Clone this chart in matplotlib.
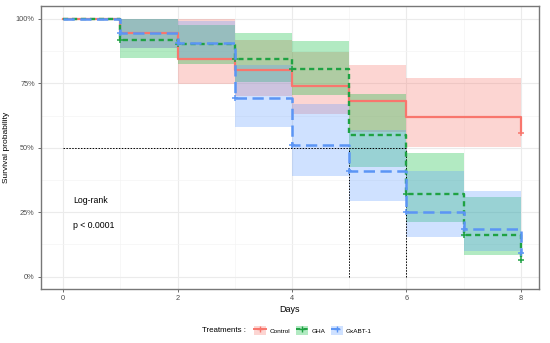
import matplotlib
matplotlib.use("Agg")
import matplotlib.pyplot as plt
import matplotlib.ticker as ticker
from matplotlib.patches import Patch
from matplotlib.lines import Line2D

plt.rcParams["font.family"] = ["Liberation Sans", "DejaVu Sans"]

# step times (days) and Kaplan-Meier estimates
days = [0, 1, 2, 3, 4, 5, 6, 7, 8]

control_surv = [1.0, 0.944, 0.844, 0.802, 0.741, 0.683, 0.621, 0.621, 0.559]
control_low = [1.0, 0.886, 0.748, 0.700, 0.631, 0.560, 0.502, 0.502, 0.502]
control_up = [1.0, 1.0, 1.0, 0.920, 0.873, 0.821, 0.772, 0.772, 0.772]

gha_surv = [1.0, 0.917, 0.902, 0.844, 0.805, 0.550, 0.321, 0.162, 0.065]
gha_low = [1.0, 0.847, 0.826, 0.757, 0.705, 0.427, 0.213, 0.084, 0.084]
gha_up = [1.0, 1.0, 0.978, 0.944, 0.915, 0.708, 0.481, 0.310, 0.310]

gxabt_surv = [1.0, 0.946, 0.907, 0.695, 0.511, 0.410, 0.252, 0.184, 0.092]
gxabt_low = [1.0, 0.886, 0.844, 0.580, 0.390, 0.295, 0.155, 0.100, 0.100]
gxabt_up = [1.0, 1.0, 0.990, 0.820, 0.670, 0.569, 0.411, 0.334, 0.334]

# censor marks
control_cens = [8]
gha_cens = [1, 2, 3, 4, 6, 7, 8]
gxabt_cens = [1, 2, 3, 4, 5, 6, 7, 8]

groups = ["Control", "GHA", "GxABT-1"]
colors = ["#F8766D", "#1FA243", "#5B95F5"]
fills = ["#F8766D", "#00BA38", "#619CFF"]
dashes = [None, (2.2, 1.6), (4.5, 2.2)]
widths = [1.6, 1.7, 1.8]

median_days = [5, 6]

fig = plt.figure(figsize=(5.5, 3.43), dpi=100)
ax = fig.add_axes([0.0745, 0.1574, 0.9055, 0.8251])

series = [
    (control_surv, control_low, control_up, control_cens),
    (gha_surv, gha_low, gha_up, gha_cens),
    (gxabt_surv, gxabt_low, gxabt_up, gxabt_cens),
]

for (surv, low, up, cens), fc in zip(series, fills):
    ax.fill_between(days, low, up, step="post", color=fc, alpha=0.3,
                    linewidth=0, zorder=2)

for i, ((surv, low, up, cens), col) in enumerate(zip(series, colors)):
    line, = ax.step(days, surv, where="post", color=col, linewidth=widths[i],
                    zorder=4 + i)
    if dashes[i] is not None:
        line.set_dashes(dashes[i])
    cy = [surv[days.index(t)] for t in cens]
    ax.plot(cens, cy, linestyle="none", marker="+", markersize=5,
            markeredgewidth=1.1, color=col, zorder=4 + i)

# median survival reference lines
ax.plot([0, max(median_days)], [0.5, 0.5], color="black", linestyle=(0, (1.5, 1.5)),
        linewidth=0.7, zorder=3)
for d in median_days:
    ax.plot([d, d], [0, 0.5], color="black", linestyle=(0, (1.5, 1.5)),
            linewidth=0.7, zorder=3)

ax.text(0.17, 0.295, "Log-rank", fontsize=6.3, va="center", ha="left")
ax.text(0.17, 0.198, "p < 0.0001", fontsize=6.3, va="center", ha="left")

ax.set_xlim(-0.39, 8.32)
ax.set_ylim(-0.048, 1.05)
ax.set_xticks([0, 2, 4, 6, 8])
ax.set_yticks([0, 0.25, 0.5, 0.75, 1.0])
ax.yaxis.set_major_formatter(ticker.FuncFormatter(lambda v, p: f"{v * 100:.0f}%"))
ax.xaxis.set_minor_locator(ticker.MultipleLocator(1))
ax.yaxis.set_minor_locator(ticker.MultipleLocator(0.125))
ax.grid(which="major", color="#EBEBEB", linewidth=0.8, zorder=0)
ax.grid(which="minor", color="#F4F4F4", linewidth=0.5, zorder=0)
ax.set_axisbelow(True)
ax.tick_params(which="major", labelsize=5.3, labelcolor="#4D4D4D", color="#555555",
               length=2.5, width=0.6, pad=2)
ax.tick_params(which="minor", length=0)
for s in ax.spines.values():
    s.set_color("#777777")
    s.set_linewidth(1.0)

ax.set_xlabel("Days", fontsize=6.5, labelpad=2)
ax.set_ylabel("Survival probability", fontsize=6.0, labelpad=4)

# legend at the bottom
handles = []
for i, (col, fc) in enumerate(zip(colors, fills)):
    ln = Line2D([], [], color=col, linewidth=1.4, marker="+", markersize=4,
                markeredgewidth=1.0)
    if dashes[i] is not None:
        ln.set_dashes(dashes[i])
    handles.append((Patch(facecolor=fc, alpha=0.3, edgecolor="none"), ln))

fig.text(0.447, 0.0365, "Treatments :", fontsize=5.7, ha="right", va="center")
fig.legend(handles, groups, loc="center left", bbox_to_anchor=(0.462, 0.0365),
           ncol=3, frameon=False, fontsize=4.6, handlelength=1.9, handleheight=1.9,
           handletextpad=0.5, columnspacing=0.9, borderpad=0, borderaxespad=0)

fig.savefig("out.png", dpi=100)
